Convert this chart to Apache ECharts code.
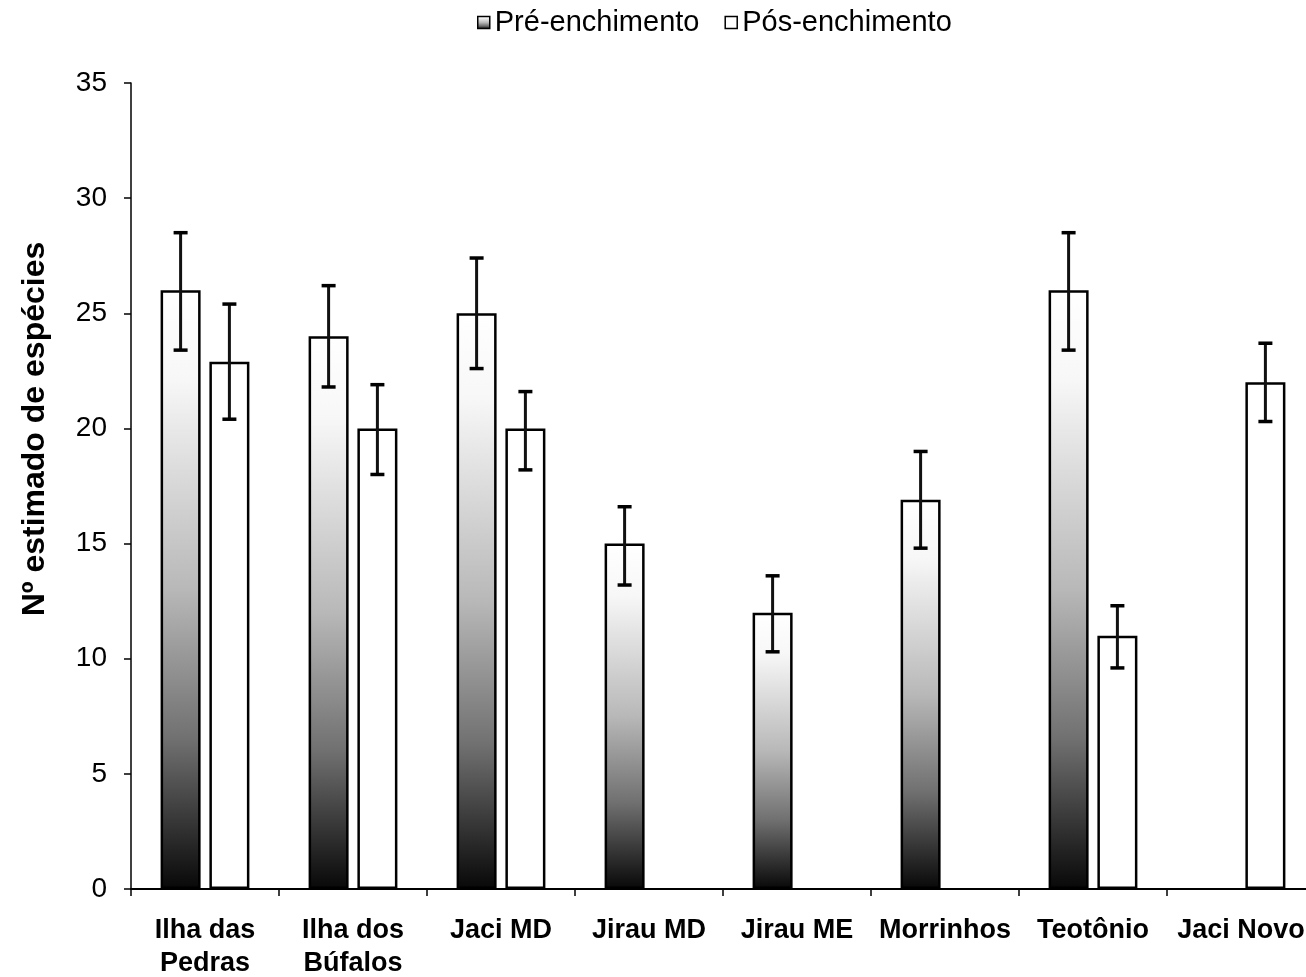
<!DOCTYPE html>
<html><head><meta charset="utf-8">
<script src="https://cdn.jsdelivr.net/npm/echarts@6/dist/echarts.min.js"></script>
<style>html,body{margin:0;padding:0;background:#fff}#c{width:1306px;height:977px}</style>
</head><body><div id="c"></div>
<script>
const categories = ['Ilha das\nPedras','Ilha dos\nBúfalos','Jaci MD','Jirau MD','Jirau ME','Morrinhos','Teotônio','Jaci Novo'];
const preValues = [26, 24, 25, 15, 12, 16.9, 26, '-'];
const preLow    = [23.4, 21.8, 22.6, 13.2, 10.3, 14.8, 23.4, null];
const preHigh   = [28.5, 26.2, 27.4, 16.6, 13.6, 19.0, 28.5, null];
const posValues = [22.9, 20, 20, '-', '-', '-', 11, 22];
const posLow    = [20.4, 18.0, 18.2, null, null, null, 9.6, 20.3];
const posHigh   = [25.4, 21.9, 21.6, null, null, null, 12.3, 23.7];
const yTicks = {min: 0, max: 35, interval: 5};

const BAR_W = 40, GAP = 0.22;
const offset = (BAR_W + BAR_W * GAP) / 2;

function errData(lo, hi) {
  const out = [];
  lo.forEach((v, i) => { if (v != null) out.push([i, v, hi[i]]); });
  return out;
}
function errRender(dx) {
  return function (params, api) {
    const i = api.value(0);
    const x = api.coord([i, 0])[0] + dx;
    const yl = api.coord([i, api.value(1)])[1];
    const yh = api.coord([i, api.value(2)])[1];
    const hw = 7;
    const st = {stroke: '#111', lineWidth: 3};
    return {type: 'group', children: [
      {type: 'line', shape: {x1: x, y1: yl, x2: x, y2: yh}, style: st},
      {type: 'line', shape: {x1: x - hw, y1: yl, x2: x + hw, y2: yl}, style: {stroke: '#000', lineWidth: 3.5}},
      {type: 'line', shape: {x1: x - hw, y1: yh, x2: x + hw, y2: yh}, style: {stroke: '#000', lineWidth: 3.5}}
    ]};
  };
}

const grad = new echarts.graphic.LinearGradient(0, 0, 0, 1, [
  {offset: 0, color: '#ffffff'},
  {offset: 0.15, color: '#f7f7f7'},
  {offset: 0.5, color: '#b8b8b8'},
  {offset: 0.75, color: '#707070'},
  {offset: 1, color: '#080808'}
]);

const chart = echarts.init(document.getElementById('c'), null, {renderer: 'canvas'});
chart.setOption({
  animation: false,
  backgroundColor: '#fff',
  legend: {
    data: ['Pré-enchimento', 'Pós-enchimento'],
    left: 472, top: 3,
    itemWidth: 12, itemHeight: 12, itemGap: 25,
    icon: 'rect',
    itemStyle: {borderColor: '#000', borderWidth: 1.5},
    textStyle: {fontFamily: 'Liberation Sans, Arial, sans-serif', fontSize: 29, color: '#000'}
  },
  grid: {left: 131, right: -9, top: 83, bottom: 88, containLabel: false, outerBoundsMode: 'none'},
  xAxis: {
    type: 'category', data: categories,
    axisLine: {lineStyle: {color: '#000', width: 2}},
    axisTick: {show: true, length: 7, lineStyle: {color: '#000', width: 1.5}},
    axisLabel: {interval: 0, margin: 25, color: '#000', fontWeight: 'bold', fontSize: 27, lineHeight: 33,
      fontFamily: 'Liberation Sans, Arial, sans-serif'}
  },
  yAxis: {
    type: 'value', min: yTicks.min, max: yTicks.max, interval: yTicks.interval,
    name: 'Nº estimado de espécies', nameLocation: 'middle', nameGap: 80, nameRotate: 90,
    nameTextStyle: {fontWeight: 'bold', fontSize: 32, color: '#000', fontFamily: 'Liberation Sans, Arial, sans-serif',
      padding: [0, 0, 0, 114]},
    splitLine: {show: false},
    axisLine: {show: true, lineStyle: {color: '#000', width: 1.5}},
    axisTick: {show: true, length: 7, lineStyle: {color: '#000', width: 1.5}},
    axisLabel: {margin: 24, color: '#000', fontSize: 28,
      fontFamily: 'Liberation Sans Narrow, Liberation Sans, Arial, sans-serif'}
  },
  series: [
    {name: 'Pré-enchimento', type: 'bar', data: preValues, barWidth: BAR_W, barGap: (GAP * 100) + '%',
      itemStyle: {color: grad, borderColor: '#000', borderWidth: 2.5}},
    {name: 'Pós-enchimento', type: 'bar', data: posValues, barWidth: BAR_W,
      itemStyle: {color: '#fff', borderColor: '#000', borderWidth: 2.5}},
    {name: 'errPre', type: 'custom', data: errData(preLow, preHigh), renderItem: errRender(-offset), z: 5, silent: true},
    {name: 'errPos', type: 'custom', data: errData(posLow, posHigh), renderItem: errRender(offset), z: 5, silent: true}
  ]
});
</script>
</body></html>
